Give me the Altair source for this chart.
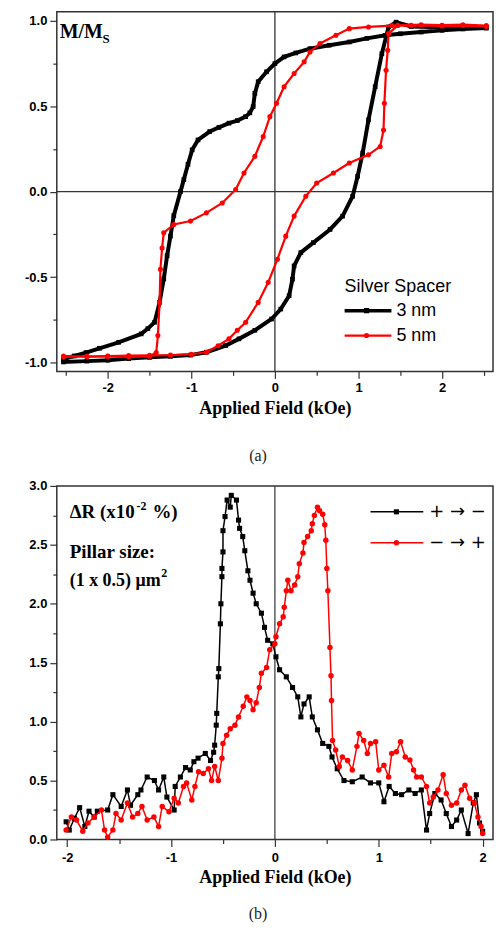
import altair as alt
import pandas as pd

# ---------------- Panel (a): hysteresis loops, M/Ms vs field (kOe) ----------------
# 3 nm spacer: descending branch (+ -> -) followed by ascending branch (- -> +)
M3_X = [2.53, 2.25, 2.0, 1.75, 1.5, 1.32, 1.1, 0.89, 0.65, 0.42, 0.25, 0.11, 0.0, -0.10, -0.20,
        -0.24, -0.26, -0.30, -0.35, -0.45, -0.55, -0.67, -0.78, -0.92, -0.99, -1.04, -1.09, -1.13,
        -1.21, -1.25, -1.29, -1.33, -1.38, -1.44, -1.52, -1.60, -1.87, -2.1, -2.26, -2.4, -2.53,
        -2.53, -2.25, -2.0, -1.75, -1.5, -1.25, -1.01, -0.82, -0.59, -0.43, -0.24, -0.04, 0.07,
        0.17, 0.21, 0.23, 0.31, 0.46, 0.66, 0.81, 0.93, 0.99, 1.05, 1.12, 1.20, 1.28, 1.36, 1.45,
        1.63, 2.0, 2.25, 2.53]
M3_Y = [0.955, 0.95, 0.942, 0.932, 0.922, 0.913, 0.895, 0.874, 0.855, 0.835, 0.81, 0.787, 0.748,
        0.70, 0.642, 0.574, 0.497, 0.46, 0.438, 0.415, 0.40, 0.375, 0.351, 0.302, 0.244, 0.16,
        0.07, 0.0, -0.14, -0.26, -0.374, -0.51, -0.647, -0.763, -0.80, -0.831, -0.88, -0.915,
        -0.94, -0.96, -0.977,
        -0.995, -0.99, -0.985, -0.975, -0.968, -0.962, -0.955, -0.938, -0.899, -0.86, -0.81,
        -0.744, -0.686, -0.608, -0.512, -0.434, -0.356, -0.298, -0.221, -0.143, -0.027, 0.09,
        0.225, 0.419, 0.613, 0.806, 0.962, 0.99, 0.965, 0.96, 0.962, 0.96]

# 5 nm spacer
M5_X = [2.53, 2.25, 2.0, 1.63, 1.4, 1.12, 0.89, 0.73, 0.54, 0.42, 0.35, 0.23, 0.11, 0.02, -0.06,
        -0.14, -0.24, -0.37, -0.47, -0.63, -0.82, -1.01, -1.21, -1.33, -1.35, -1.37, -1.38, -1.40,
        -1.42, -1.5, -1.75, -2.0, -2.25, -2.53,
        -2.53, -2.25, -2.0, -1.75, -1.5, -1.25, -1.0, -0.82, -0.68, -0.55, -0.45, -0.35, -0.2,
        -0.08, 0.03, 0.13, 0.23, 0.37, 0.50, 0.70, 0.89, 1.12, 1.26, 1.30, 1.31, 1.33, 1.35, 1.36,
        1.47, 1.75, 2.0, 2.25, 2.53]
M5_Y = [0.965, 0.97, 0.968, 0.971, 0.97, 0.962, 0.952, 0.913, 0.865, 0.816, 0.758, 0.69, 0.613,
        0.516, 0.438, 0.322, 0.206, 0.109, 0.012, -0.066, -0.124, -0.172, -0.192, -0.24, -0.33,
        -0.453, -0.647, -0.84, -0.94, -0.962, -0.965, -0.962, -0.965, -0.96,
        -0.965, -0.962, -0.96, -0.958, -0.956, -0.955, -0.95, -0.938, -0.9, -0.86, -0.81, -0.763,
        -0.647, -0.53, -0.395, -0.26, -0.143, -0.027, 0.05, 0.109, 0.167, 0.215, 0.264, 0.36,
        0.516, 0.709, 0.826, 0.923, 0.971, 0.975, 0.972, 0.975, 0.97]

# ---------------- Panel (b): Delta R (x1e-2 %) vs field (kOe) ----------------
# + -> - sweep (black squares), in sweep order
PM_X = [2.0, 1.97, 1.94, 1.91, 1.86, 1.795, 1.75, 1.70, 1.65, 1.60, 1.54, 1.49, 1.46, 1.41, 1.35,
        1.29, 1.22, 1.16, 1.10, 1.05, 1.0, 0.92, 0.84, 0.745, 0.665, 0.60, 0.55, 0.52, 0.46, 0.41,
        0.36, 0.33, 0.28, 0.25, 0.22, 0.17, 0.11, 0.045, 0.01, -0.02, -0.07, -0.10, -0.13, -0.18,
        -0.21, -0.24, -0.26, -0.29, -0.31, -0.34, -0.35, -0.37, -0.42, -0.43, -0.46, -0.48, -0.50,
        -0.50, -0.51, -0.51, -0.52, -0.525, -0.54, -0.545, -0.56, -0.565, -0.58, -0.59, -0.62,
        -0.67, -0.74, -0.78, -0.815, -0.86, -0.91, -0.96, -0.97, -1.04, -1.07, -1.12, -1.16, -1.23,
        -1.29, -1.32, -1.39, -1.42, -1.48, -1.56, -1.61, -1.71, -1.74, -1.79, -1.83, -1.88, -1.93,
        -1.98, -2.01]
PM_Y = [0.07, 0.14, 0.38, 0.31, 0.05, 0.25, 0.165, 0.11, 0.22, 0.335, 0.39, 0.22, 0.08, 0.42, 0.39,
        0.42, 0.38, 0.39, 0.45, 0.32, 0.48, 0.48, 0.53, 0.49, 0.50, 0.60, 0.70, 0.79, 0.815, 0.93,
        1.04, 1.21, 1.15, 1.04, 1.21, 1.29, 1.38, 1.44, 1.55, 1.66, 1.69, 1.80, 1.92, 2.0,
        2.09, 2.20, 2.28, 2.45, 2.57, 2.64, 2.71, 2.88, 2.92, 2.82, 2.88, 2.74, 2.62,
        2.44, 2.30, 2.23, 2.0, 1.83, 1.45, 1.38, 1.07, 0.97, 0.80, 0.74, 0.67,
        0.73, 0.69, 0.66, 0.59, 0.61, 0.53, 0.45, 0.25, 0.36, 0.53, 0.42, 0.50, 0.53,
        0.42, 0.38, 0.29, 0.42, 0.28, 0.38, 0.25, 0.24, 0.19, 0.24, 0.11, 0.27, 0.18,
        0.08, 0.15]

# - -> + sweep (red circles), in sweep order
MP_X = [-2.01, -1.96, -1.91, -1.85, -1.80, -1.74, -1.67, -1.64, -1.61, -1.56, -1.53, -1.48, -1.42,
        -1.37, -1.32, -1.28, -1.23, -1.165, -1.12, -1.085, -1.02, -0.97, -0.93, -0.88, -0.85, -0.80,
        -0.77, -0.735, -0.69, -0.64, -0.61, -0.58, -0.545, -0.51, -0.50, -0.465, -0.43, -0.385,
        -0.35, -0.305, -0.27, -0.24, -0.21, -0.18, -0.15, -0.13, -0.08, -0.05, 0.0, 0.01, 0.045,
        0.08, 0.09, 0.11, 0.125, 0.155, 0.19, 0.22, 0.235, 0.27, 0.28, 0.315, 0.35, 0.36, 0.38,
        0.41, 0.43, 0.46, 0.48, 0.49, 0.50, 0.51, 0.53, 0.54, 0.545, 0.555, 0.585, 0.62, 0.65,
        0.70, 0.745, 0.79, 0.81, 0.855, 0.89, 0.92, 0.97, 1.0, 1.05, 1.095, 1.125, 1.17, 1.21,
        1.255, 1.30, 1.335, 1.365, 1.41, 1.46, 1.49, 1.525, 1.57, 1.62, 1.65, 1.70, 1.75, 1.795,
        1.83, 1.875, 1.92, 1.955, 1.985, 2.0]
MP_Y = [0.08, 0.19, 0.165, 0.07, 0.14, 0.19, 0.25, 0.08, 0.02, 0.08, 0.22, 0.165, 0.31,
        0.19, 0.22, 0.28, 0.165, 0.19, 0.11, 0.28, 0.235, 0.35, 0.31, 0.45, 0.48, 0.335,
        0.45, 0.575, 0.56, 0.60, 0.50, 0.62, 0.50, 0.69, 0.815, 0.885, 0.94, 0.97,
        1.04, 1.13, 1.21, 1.18, 1.10, 1.16, 1.29, 1.41, 1.46, 1.61, 1.66, 1.72, 1.83,
        1.89, 1.97, 2.11, 2.20, 2.11, 2.16, 2.23, 2.34, 2.43, 2.52, 2.57, 2.62, 2.68, 2.75,
        2.82, 2.79, 2.76, 2.67, 2.54, 2.30, 2.11, 1.63, 1.39, 1.18, 0.84, 0.76, 0.62, 0.70,
        0.67, 0.59, 0.79, 0.90, 0.84, 0.73, 0.815, 0.83, 0.59, 0.63, 0.53, 0.73, 0.745, 0.83,
        0.70, 0.675, 0.59, 0.53, 0.53, 0.45, 0.31, 0.36, 0.42, 0.55, 0.39, 0.29, 0.31, 0.42,
        0.46, 0.35, 0.31, 0.19, 0.11, 0.05]

TOP_X_TICKS = [-2.5, -2.0, -1.5, -1.0, -0.5, 0.0, 0.5, 1.0, 1.5, 2.0, 2.5]
TOP_Y_TICKS = [-1.0, -0.75, -0.5, -0.25, 0.0, 0.25, 0.5, 0.75, 1.0]
BOT_X_TICKS = [-2.0, -1.5, -1.0, -0.5, 0.0, 0.5, 1.0, 1.5, 2.0]
BOT_Y_TICKS = [0.0, 0.25, 0.5, 0.75, 1.0, 1.25, 1.5, 1.75, 2.0, 2.25, 2.5, 2.75, 3.0]

X_TITLE = "Applied Field (kOe)"
TOP_LEGEND = ["3 nm", "5 nm"]
BOT_LEGEND = ["+ \u2192 \u2212", "\u2212 \u2192 +"]

BLACK = "#000000"
RED = "#ff0000"
FRAME = "#333333"

INT_TEST = "abs(datum.value - round(datum.value)) < 0.001"
HALF_TEST = "abs(datum.value * 2 - round(datum.value * 2)) < 0.001"
Y_EXTENT = 48


def make_axis(values, test, fmt, title=None, extent=None, title_padding=5, label_padding=3):
    kw = dict(
        values=values,
        labelExpr=f"{test} ? (datum.value < 0 ? '-' : '') + format(abs(datum.value), '{fmt}') : ''",
        tickSize={"condition": {"test": test, "value": 7}, "value": 4},
        tickColor=FRAME, tickWidth=1.2, domain=False, grid=False,
        labelFont="Liberation Sans", labelFontWeight="bold", labelFontSize=13,
        labelColor="black", labelPadding=label_padding, labelFlush=False, labelOverlap=False,
    )
    if title is not None:
        kw.update(title=title, titleFont="Liberation Serif", titleFontWeight="bold",
                  titleFontSize=18, titleColor="black", titlePadding=title_padding)
    else:
        kw.update(title=None)
    if extent is not None:
        kw.update(minExtent=extent, maxExtent=extent)
    return alt.Axis(**kw)


def series_df(xs, ys):
    return pd.DataFrame({"x": xs, "y": ys, "i": list(range(len(xs)))})


def text_layer(t, x, y, size, font="Liberation Serif", weight="bold", align="left",
               baseline="alphabetic", color="black"):
    return alt.Chart(pd.DataFrame({"t": [t]})).mark_text(
        font=font, fontWeight=weight, fontSize=size, align=align, baseline=baseline, color=color
    ).encode(text="t:N", x=alt.value(x), y=alt.value(y))


def legend_entry(x1, x2, xm, y, color, width, shape, msize, label, tx, tsize, tfont):
    d = pd.DataFrame({"a": [0]})
    line = alt.Chart(d).mark_rule(color=color, strokeWidth=width).encode(
        x=alt.value(x1), x2=alt.value(x2), y=alt.value(y))
    mk = alt.Chart(d).mark_point(shape=shape, filled=True, color=color, size=msize, opacity=1).encode(
        x=alt.value(xm), y=alt.value(y))
    txt = alt.Chart(pd.DataFrame({"t": [label]})).mark_text(
        font=tfont, fontSize=tsize, align="left", baseline="middle", color="black"
    ).encode(text="t:N", x=alt.value(tx), y=alt.value(y))
    return [line, mk, txt]


# ---------------- top chart ----------------
tx = alt.X("x:Q", scale=alt.Scale(domain=[-2.61, 2.61], nice=False, zero=False),
           axis=make_axis(TOP_X_TICKS, INT_TEST, "d", title=X_TITLE, title_padding=5))
ty = alt.Y("y:Q", scale=alt.Scale(domain=[-1.05, 1.05], nice=False, zero=False),
           axis=make_axis(TOP_Y_TICKS, HALF_TEST, ".1f", extent=Y_EXTENT))

m3 = series_df(M3_X, M3_Y)
m5 = series_df(M5_X, M5_Y)

top_layers = [
    alt.Chart(pd.DataFrame({"x": [0.0]})).mark_rule(color=FRAME, strokeWidth=1.3).encode(x=tx),
    alt.Chart(pd.DataFrame({"y": [0.0]})).mark_rule(color=FRAME, strokeWidth=1.3).encode(y=ty),
    alt.Chart(m3).mark_line(color=BLACK, strokeWidth=4).encode(x=tx, y=ty, order="i:Q"),
    alt.Chart(m3).mark_point(shape="square", filled=True, color=BLACK, size=22, opacity=1).encode(x=tx, y=ty),
    alt.Chart(m5).mark_line(color=RED, strokeWidth=2.2).encode(x=tx, y=ty, order="i:Q"),
    alt.Chart(m5).mark_point(shape="circle", filled=True, color=RED, size=26, opacity=1).encode(x=tx, y=ty),
    text_layer("M/M", 3, 26, 20),
    text_layer("S", 46, 31, 13),
    text_layer("Silver Spacer", 289, 281, 18, font="Liberation Sans", weight="normal"),
]
top_layers += legend_entry(289, 336, 311, 300, BLACK, 3.5, "square", 28, TOP_LEGEND[0], 341, 18, "Liberation Sans")
top_layers += legend_entry(289, 336, 311, 325, RED, 2.2, "circle", 26, TOP_LEGEND[1], 341, 18, "Liberation Sans")

top = alt.layer(*top_layers).properties(
    width=438, height=361,
    title=alt.TitleParams("(a)", orient="bottom", anchor="middle", frame="group", dx=-17, offset=31,
                          font="Liberation Serif", fontSize=16, fontWeight="normal", color="#222222"),
)

# ---------------- bottom chart ----------------
bx = alt.X("x:Q", scale=alt.Scale(domain=[-2.1, 2.1], nice=False, zero=False),
           axis=make_axis(BOT_X_TICKS, INT_TEST, "d", title=X_TITLE, title_padding=4, label_padding=5))
by = alt.Y("y:Q", scale=alt.Scale(domain=[0, 3.0], nice=False, zero=False),
           axis=make_axis(BOT_Y_TICKS, HALF_TEST, ".1f", extent=Y_EXTENT))

pm = series_df(PM_X, PM_Y)
mp = series_df(MP_X, MP_Y)

bot_layers = [
    alt.Chart(pd.DataFrame({"x": [0.0]})).mark_rule(color=FRAME, strokeWidth=1.2).encode(x=bx),
    alt.Chart(pm).mark_line(color=BLACK, strokeWidth=1.5).encode(x=bx, y=by, order="i:Q"),
    alt.Chart(pm).mark_point(shape="square", filled=True, color=BLACK, size=26, opacity=1).encode(x=bx, y=by),
    alt.Chart(mp).mark_line(color=RED, strokeWidth=1.5).encode(x=bx, y=by, order="i:Q"),
    alt.Chart(mp).mark_point(shape="circle", filled=True, color=RED, size=30, opacity=1).encode(x=bx, y=by),
    text_layer("\u0394R (x10", 13, 32, 19),
    text_layer("-2", 80, 24, 12),
    text_layer("%)", 96, 32, 19),
    text_layer("Pillar size:", 13, 72, 19),
    text_layer("(1 x 0.5)", 13, 100, 18),
    text_layer("\u03bcm", 79, 100, 18),
    text_layer("2", 105, 91, 12),
]
bot_layers += legend_entry(315, 368, 341, 26, BLACK, 1.5, "square", 26, BOT_LEGEND[0], 374, 18, "DejaVu Sans")
bot_layers += legend_entry(315, 368, 341, 57, RED, 1.5, "circle", 30, BOT_LEGEND[1], 374, 18, "DejaVu Sans")

bottom = alt.layer(*bot_layers).properties(
    width=438, height=355,
    title=alt.TitleParams("(b)", orient="bottom", anchor="middle", frame="group", dx=-17, offset=20,
                          font="Liberation Serif", fontSize=16, fontWeight="normal", color="#222222"),
)

chart = alt.vconcat(top, bottom, spacing=14).configure_view(
    stroke=FRAME, strokeWidth=1.5
).properties(padding={"left": 0, "top": 0, "right": 0, "bottom": 0})

chart.save("out.html", embed_options={"renderer": "svg", "actions": False})
